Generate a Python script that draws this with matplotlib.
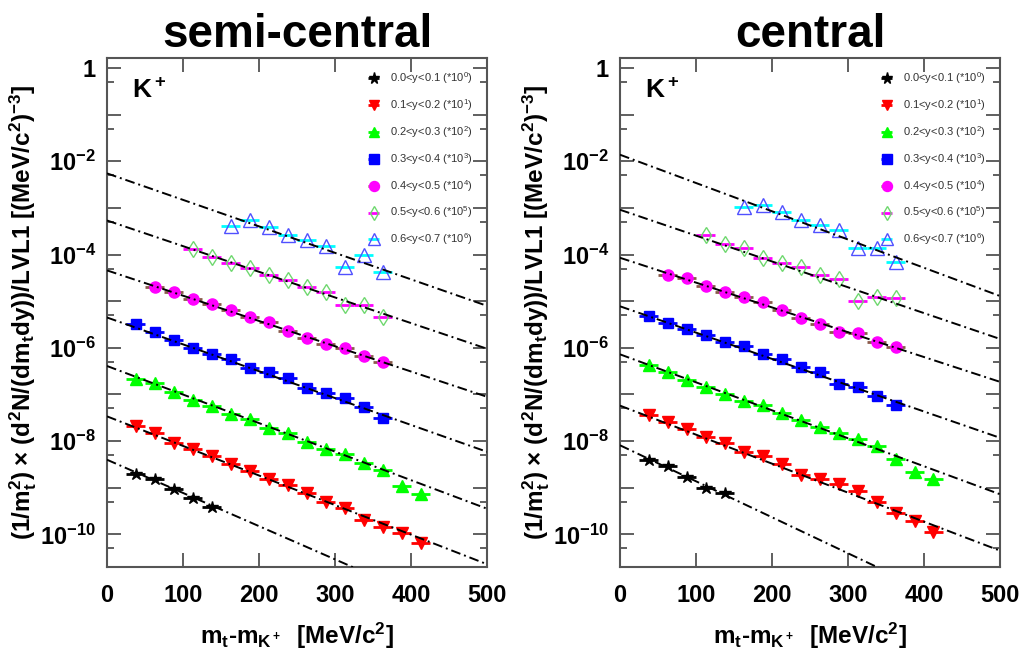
import numpy as np
import matplotlib.pyplot as plt
from matplotlib.ticker import FixedLocator, LogLocator, NullFormatter

plt.rcParams['font.family'] = ['Liberation Sans', 'DejaVu Sans']
plt.rcParams['mathtext.default'] = 'regular'

# bin centres in mt-m0 (MeV/c^2), 25 MeV wide bins
x_y0 = [37.5, 62.5, 87.5, 112.5, 137.5]
x_y1 = [37.5, 62.5, 87.5, 112.5, 137.5, 162.5, 187.5, 212.5, 237.5, 262.5,
        287.5, 312.5, 337.5, 362.5, 387.5, 412.5]
x_y2 = x_y1
x_y3 = [37.5, 62.5, 87.5, 112.5, 137.5, 162.5, 187.5, 212.5, 237.5, 262.5,
        287.5, 312.5, 337.5, 362.5]
x_y4 = [62.5, 87.5, 112.5, 137.5, 162.5, 187.5, 212.5, 237.5, 262.5,
        287.5, 312.5, 337.5, 362.5]
x_y5 = [112.5, 137.5, 162.5, 187.5, 212.5, 237.5, 262.5, 287.5, 312.5, 337.5, 362.5]
x_y6 = [162.5, 187.5, 212.5, 237.5, 262.5, 287.5, 312.5, 337.5, 362.5]
x_half = 12.5

labels = ['0.0<y<0.1 (*10$^{0}$)', '0.1<y<0.2 (*10$^{1}$)', '0.2<y<0.3 (*10$^{2}$)',
          '0.3<y<0.4 (*10$^{3}$)', '0.4<y<0.5 (*10$^{4}$)', '0.5<y<0.6 (*10$^{5}$)',
          '0.6<y<0.7 (*10$^{6}$)']

# log10 of the scaled yields, semi-central
sc_y0 = [-8.71, -8.81, -9.03, -9.21, -9.41]
sc_y1 = [-7.67, -7.83, -8.05, -8.16, -8.32, -8.50, -8.64, -8.82, -8.94, -9.12,
         -9.30, -9.44, -9.69, -9.84, -9.98, -10.19]
sc_y2 = [-6.67, -6.76, -6.94, -7.12, -7.25, -7.41, -7.53, -7.71, -7.82, -8.01,
         -8.16, -8.28, -8.46, -8.62, -8.96, -9.13]
sc_y3 = [-5.48, -5.66, -5.84, -6.00, -6.14, -6.25, -6.43, -6.51, -6.65, -6.87,
         -6.96, -7.08, -7.26, -7.51]
sc_y4 = [-4.69, -4.80, -4.96, -5.06, -5.19, -5.34, -5.44, -5.64, -5.80, -5.91,
         -6.01, -6.18, -6.30]
sc_y5 = [-3.89, -4.05, -4.18, -4.28, -4.44, -4.54, -4.69, -4.80, -5.09, -5.09, -5.34]
sc_y6 = [-3.39, -3.26, -3.41, -3.59, -3.68, -3.82, -4.26, -4.01, -4.37]

# log10 of the scaled yields, central
c_y0 = [-8.41, -8.53, -8.76, -9.01, -9.11]
c_y1 = [-7.44, -7.59, -7.75, -7.91, -8.04, -8.23, -8.32, -8.50, -8.73, -8.81,
        -8.92, -9.06, -9.31, -9.54, -9.71, -9.94]
c_y2 = [-6.36, -6.51, -6.68, -6.85, -6.98, -7.14, -7.23, -7.39, -7.54, -7.69,
        -7.82, -7.96, -8.11, -8.39, -8.66, -8.81]
c_y3 = [-5.32, -5.46, -5.60, -5.73, -5.87, -5.97, -6.14, -6.25, -6.42, -6.51,
        -6.78, -6.84, -7.03, -7.23]
c_y4 = [-4.44, -4.51, -4.68, -4.80, -4.91, -5.01, -5.18, -5.36, -5.48, -5.66,
        -5.69, -5.88, -5.99]
c_y5 = [-3.59, -3.78, -3.87, -4.08, -4.18, -4.26, -4.44, -4.53, -4.99, -4.91, -4.94]
c_y6 = [-2.99, -2.94, -3.09, -3.26, -3.37, -3.48, -3.86, -3.86, -4.17]

# exponential fits: log10 value at mt-m0 = 0 and 500
fit_x = [0, 500]
sc_fit = [[-8.40, -11.96], [-7.47, -10.64], [-6.39, -9.45], [-5.35, -8.23],
          [-4.34, -7.05], [-3.27, -6.02], [-2.26, -5.10]]
c_fit = [[-8.09, -11.95], [-7.24, -10.35], [-6.14, -9.14], [-5.11, -7.93],
         [-4.07, -6.73], [-3.04, -5.81], [-1.86, -4.89]]

xs = [x_y0, x_y1, x_y2, x_y3, x_y4, x_y5, x_y6]
sc_all = [sc_y0, sc_y1, sc_y2, sc_y3, sc_y4, sc_y5, sc_y6]
c_all = [c_y0, c_y1, c_y2, c_y3, c_y4, c_y5, c_y6]

styles = [
    dict(marker='*', mfc='black', mec='black', ms=9, ecolor='black'),
    dict(marker='v', mfc='red', mec='red', ms=8, ecolor='red'),
    dict(marker='^', mfc='#00ff00', mec='#00ff00', ms=8, ecolor='#00ff00'),
    dict(marker='s', mfc='blue', mec='blue', ms=7.5, ecolor='blue'),
    dict(marker='o', mfc='magenta', mec='magenta', ms=8, ecolor='#8b5a4a'),
    dict(marker='d', mfc='none', mec='#6fd86f', ms=8, ecolor='magenta'),
    dict(marker='^', mfc='none', mec='#5050ff', ms=10, ecolor='cyan'),
]

fig = plt.figure(figsize=(10.29, 6.57), dpi=100)
ax1 = fig.add_axes([107/1029, 90/657, 380/1029, 509/657])
ax2 = fig.add_axes([620/1029, 90/657, 380/1029, 509/657])

ylabel = '(1/m$_t^2$) $\\times$ (d$^2$N/(dm$_t$dy))/LVL1 [(MeV/c$^2$)$^{-3}$]'
dec = list(range(-11, 1))

for ax, vals, fits, title in [(ax1, sc_all, sc_fit, 'semi-central'),
                              (ax2, c_all, c_fit, 'central')]:
    for x, v, st, lab in zip(xs, vals, styles, labels):
        ax.errorbar(x, 10**np.array(v), xerr=x_half, fmt=st['marker'], ms=st['ms'],
                    mfc=st['mfc'], mec=st['mec'], mew=1, ecolor=st['ecolor'],
                    elinewidth=2, capsize=0, label=lab, zorder=2)
    for f in fits:
        ax.plot(fit_x, 10**np.array(f), color='black', lw=1.4,
                ls=(0, (5, 2, 1, 2)), zorder=4)
    ax.set_yscale('log')
    ax.set_xlim(0, 500)
    ax.set_ylim(10**-10.7, 10**0.214)
    ax.yaxis.set_major_locator(FixedLocator([10.0**k for k in dec]))
    ax.yaxis.set_major_formatter(plt.FuncFormatter(
        lambda v, p: '' if round(np.log10(v)) % 2 else
        ('1' if round(np.log10(v)) == 0 else '$10^{%d}$' % round(np.log10(v)))))
    ax.yaxis.set_minor_locator(LogLocator(base=10, subs=(5.0,), numticks=30))
    ax.yaxis.set_minor_formatter(NullFormatter())
    ax.set_xticks([0, 100, 200, 300, 400, 500])
    ax.tick_params(which='both', direction='in', top=True, right=True,
                   color='#444444', labelsize=17, width=1.2)
    ax.tick_params(which='major', length=10)
    ax.tick_params(axis='x', which='major', pad=12)
    ax.tick_params(axis='y', which='major', pad=8)
    ax.tick_params(which='minor', length=5)
    for lbl in ax.get_xticklabels() + ax.get_yticklabels():
        lbl.set_fontweight('bold')
    for sp in ax.spines.values():
        sp.set_color('#555555')
        sp.set_linewidth(1.5)
    ax.set_xlabel('m$_t$-m$_{K^+}$  [MeV/c$^2$]', fontsize=17.5, fontweight='bold')
    ax.set_ylabel(ylabel, fontsize=17.5, fontweight='bold')
    ax.yaxis.set_label_coords(-0.178, 0.5)
    ax.xaxis.set_label_coords(0.5, -0.105)
    ax.set_title(title, fontsize=33, fontweight='bold', pad=8)
    ax.text(0.065, 0.935, 'K$^+$', transform=ax.transAxes, fontsize=19,
            fontweight='bold', va='center')
    ax.legend(loc='upper right', bbox_to_anchor=(0.975, 0.985), frameon=False,
              fontsize=8, labelcolor='#333333', handlelength=2.2,
              labelspacing=1.0, borderaxespad=0, handletextpad=0.4,
              markerscale=0.9)

plt.savefig('out.png', dpi=100)
